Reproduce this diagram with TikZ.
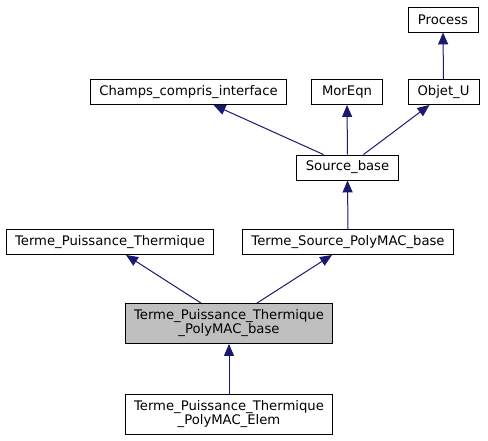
\documentclass[tikz,border=0pt]{standalone}
\usepackage{fontspec}
\setmainfont{DejaVu Sans}
\usetikzlibrary{arrows.meta,positioning}
\definecolor{edgeblue}{HTML}{191970}
\definecolor{grayfill}{HTML}{BFBFBF}
\tikzset{
  cls/.style={draw=black, line width=0.9pt, fill=white, inner xsep=9pt, inner ysep=0pt,
    minimum height=25pt, align=center, font=\fontsize{13.2}{14}\selectfont},
  cls2/.style={cls, minimum height=40pt},
  inh/.style={draw=edgeblue, line width=1pt, -{Triangle[length=12pt,width=10pt]}}
}
\begin{document}
\begin{tikzpicture}[x=1pt,y=-1pt]
\useasboundingbox (0,0) rectangle (488,440);
\node[cls, minimum width=70pt] (process) at (443,19.5) {Process};
\node[cls, minimum width=71pt] (objet) at (443.5,92) {Objet\_U};
\node[cls, minimum width=71pt] (moreqn) at (347,92) {MorEqn};
\node[cls] (champs) at (188.5,92) {Champs\_compris\_interface};
\node[cls] (source) at (347.5,167.5) {Source\_base};
\node[cls] (tpt) at (110,242) {Terme\_Puissance\_Thermique};
\node[cls] (tspb) at (348,242) {Terme\_Source\_PolyMAC\_base};
\node[cls2, fill=grayfill] (tptpb) at (229,323.5) {Terme\_Puissance\_Thermique\\\_PolyMAC\_base};
\node[cls2] (elem) at (229,414) {Terme\_Puissance\_Thermique\\\_PolyMAC\_Elem};
\draw[inh] (objet.north) -- (process.south);
\draw[inh] ([xshift=-24pt]source.north) -- ([xshift=25pt]champs.south);
\draw[inh] (source.north) -- (moreqn.south);
\draw[inh] ([xshift=16pt]source.north) -- ([xshift=-14pt]objet.south);
\draw[inh] (tspb.north) -- (source.south);
\draw[inh] ([xshift=-28pt]tptpb.north) -- ([xshift=16pt]tpt.south);
\draw[inh] ([xshift=28pt]tptpb.north) -- ([xshift=-16pt]tspb.south);
\draw[inh] (elem.north) -- (tptpb.south);
\end{tikzpicture}
\end{document}
